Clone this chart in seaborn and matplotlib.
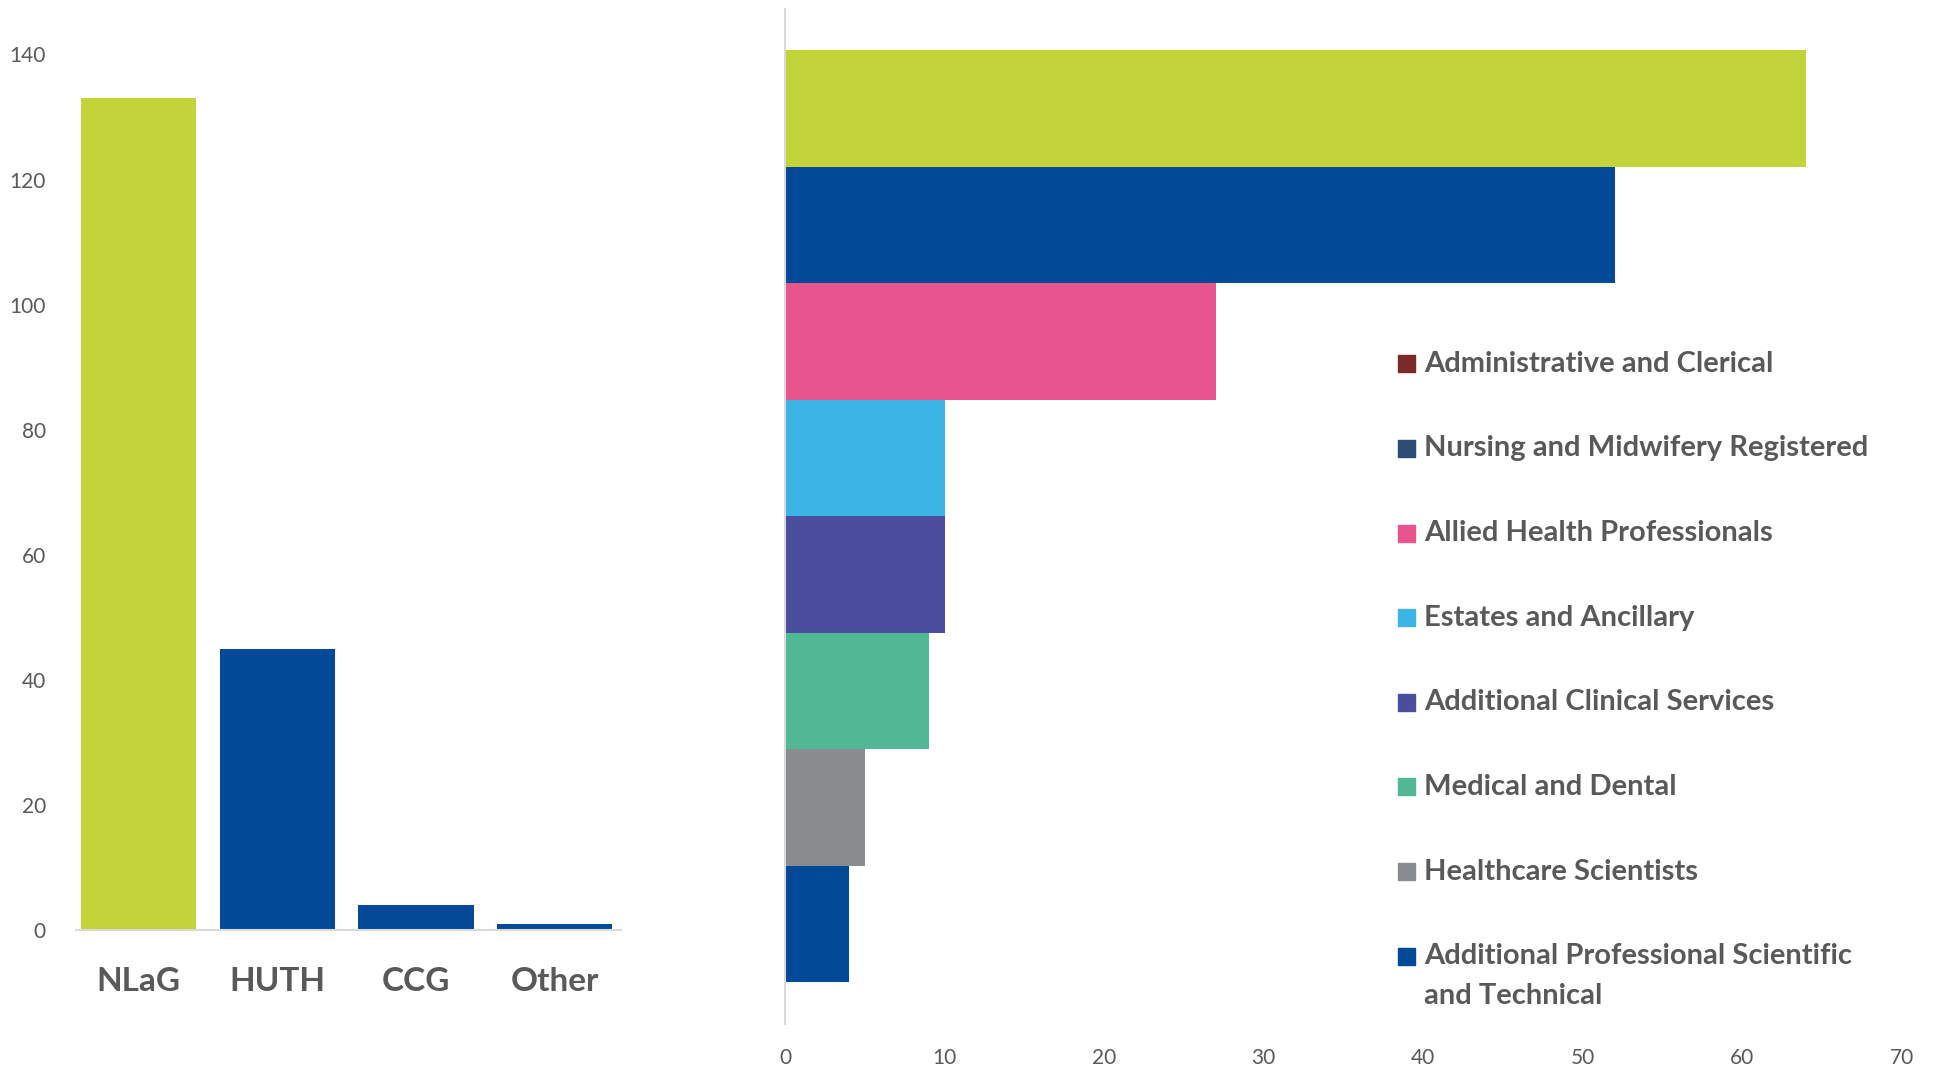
import matplotlib
matplotlib.use("Agg")
import matplotlib.pyplot as plt
import seaborn as sns
import pandas as pd
from matplotlib.patches import Rectangle

# ---------------- data ----------------
orgs = ["NLaG", "HUTH", "CCG", "Other"]
org_counts = [133, 45, 4, 1]
org_colors = ["#C3D33A", "#024A97", "#024A97", "#024A97"]

staff_groups = [
    "Administrative and Clerical",
    "Nursing and Midwifery Registered",
    "Allied Health Professionals",
    "Estates and Ancillary",
    "Additional Clinical Services",
    "Medical and Dental",
    "Healthcare Scientists",
    "Additional Professional Scientific\nand Technical",
]
staff_counts = [64, 52, 27, 10, 10, 9, 5, 4]
bar_colors = ["#C3D33A", "#024A97", "#E8548D", "#3CB4E5",
              "#4A4E9C", "#52B794", "#898C8E", "#024A97"]
legend_colors = ["#7B2A2A", "#2C4C74", "#E8548D", "#3CB4E5",
                 "#4A4E9C", "#52B794", "#898C8E", "#024A97"]

left_ticks = [0, 20, 40, 60, 80, 100, 120, 140]
right_ticks = [0, 10, 20, 30, 40, 50, 60, 70]

# ---------------- style ----------------
sns.set_theme(style="white")
plt.rcParams["font.family"] = ["Lato", "DejaVu Sans"]
text_color = "#595959"
spine_color = "#D9D9D9"

fig = plt.figure(figsize=(19.35, 10.67), dpi=100)

# ---------------- left chart ----------------
ax1 = fig.add_axes([0.0395, 0.128, 0.2815, 0.821])
df1 = pd.DataFrame({"org": orgs, "count": org_counts})
sns.barplot(data=df1, x="org", y="count", hue="org", palette=org_colors,
            width=0.83, saturation=1, legend=False, linewidth=0, ax=ax1)
ax1.set_ylim(0, 140)
ax1.set_xlim(-0.45, 3.48)
ax1.set_yticks(left_ticks)
ax1.set_xlabel("")
ax1.set_ylabel("")
for s in ["top", "right", "left"]:
    ax1.spines[s].set_visible(False)
ax1.spines["bottom"].set_color(spine_color)
ax1.spines["bottom"].set_linewidth(1.5)
ax1.tick_params(axis="y", length=0, pad=22, labelsize=15, labelcolor=text_color)
ax1.tick_params(axis="x", length=0, pad=26, labelsize=24, labelcolor=text_color)
for lbl in ax1.get_xticklabels():
    lbl.set_fontweight("bold")

# ---------------- right chart ----------------
ax2 = fig.add_axes([0.4057, 0.040, 0.5771, 0.952])
df2 = pd.DataFrame({"group": staff_groups, "count": staff_counts})
sns.barplot(data=df2, y="group", x="count", hue="group", palette=bar_colors,
            orient="h", width=1.0, saturation=1, legend=False, linewidth=0,
            ax=ax2)
ax2.set_xlim(0, 70)
ax2.set_ylim(7.86, -0.86)
ax2.set_xticks(right_ticks)
ax2.set_yticks([])
ax2.set_xlabel("")
ax2.set_ylabel("")
for s in ["top", "right", "bottom"]:
    ax2.spines[s].set_visible(False)
ax2.spines["left"].set_color(spine_color)
ax2.spines["left"].set_linewidth(1.5)
ax2.tick_params(axis="x", length=0, pad=17, labelsize=15, labelcolor=text_color)

# ---------------- legend ----------------
y0 = 0.659
dy = 0.0793
for i, (name, col) in enumerate(zip(staff_groups, legend_colors)):
    y = y0 - i * dy
    fig.patches.append(Rectangle((0.7225, y - 0.008), 0.0088, 0.016,
                                 transform=fig.transFigure, color=col))
    for j, line in enumerate(name.split("\n")):
        fig.text(0.736, y - j * 0.037, line, fontsize=21, fontweight="bold",
                 color=text_color, va="center", ha="left")

fig.savefig("out.png", dpi=100, facecolor="white")
